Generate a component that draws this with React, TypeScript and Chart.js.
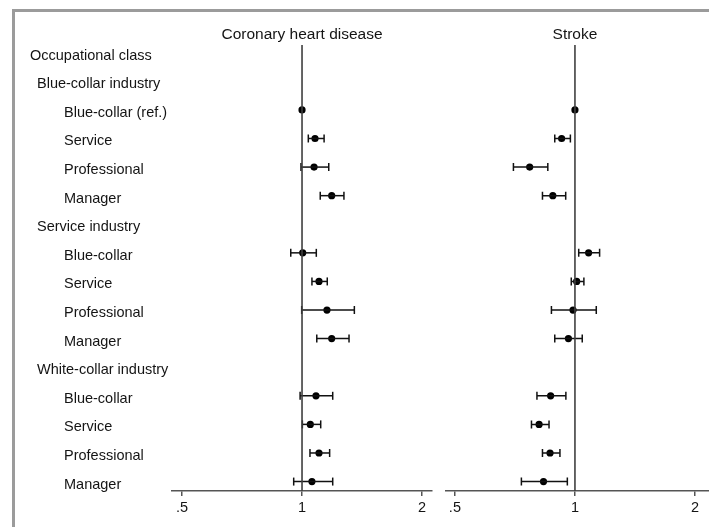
import React, { useEffect, useRef } from 'react';
import { Chart, registerables } from 'chart.js';

Chart.register(...registerables);

// ---- Data ----
const rowLabels = [
  'Occupational class',
  'Blue-collar industry',
  'Blue-collar (ref.)',
  'Service',
  'Professional',
  'Manager',
  'Service industry',
  'Blue-collar',
  'Service',
  'Professional',
  'Manager',
  'White-collar industry',
  'Blue-collar',
  'Service',
  'Professional',
  'Manager',
];
// hierarchy level of each row (0 = heading, 1 = industry, 2 = class)
const rowLevels = [0, 1, 2, 2, 2, 2, 1, 2, 2, 2, 2, 1, 2, 2, 2, 2];

const chdEst = [null, null, 1.0, 1.078, 1.072, 1.187, null, 1.004, 1.103, 1.155, 1.187, null, 1.084, 1.049, 1.103, 1.059];
const chdLo = [null, null, null, 1.037, 0.994, 1.111, null, 0.937, 1.059, 0.998, 1.089, null, 0.989, 1.002, 1.047, 0.953];
const chdHi = [null, null, null, 1.136, 1.167, 1.274, null, 1.086, 1.157, 1.353, 1.312, null, 1.194, 1.114, 1.173, 1.194];

const strokeEst = [null, null, 1.0, 0.926, 0.770, 0.880, null, 1.082, 1.010, 0.989, 0.963, null, 0.869, 0.813, 0.866, 0.834];
const strokeLo = [null, null, null, 0.890, 0.701, 0.829, null, 1.022, 0.979, 0.873, 0.890, null, 0.803, 0.778, 0.829, 0.734];
const strokeHi = [null, null, null, 0.974, 0.855, 0.948, null, 1.153, 1.053, 1.131, 1.043, null, 0.949, 0.861, 0.917, 0.957];

const xTickValues = [0.5, 1, 2];
const xTickLabels = ['.5', '1', '2'];
const panelTitles = ['Coronary heart disease', 'Stroke'];
const referenceValue = 1;

// ---- Styles ----
const FONT_FAMILY = '"Liberation Sans", Arial, Helvetica, sans-serif';
const FONT_SIZE = 14.5;
const TITLE_SIZE = 15.5;
const TEXT_COLOR = '#141414';
const AXIS_COLOR = '#555555';
const Y_MIN = -0.27;
const Y_MAX = 15.33;

type PanelOpts = {
  est: (number | null)[];
  lo: (number | null)[];
  hi: (number | null)[];
  title: string;
  xMin: number;
  xMax: number;
  padLeft: number;
  padRight: number;
  drawRowLabels: boolean;
};

function makePanel(canvas: HTMLCanvasElement, o: PanelOpts): Chart {
  const datasets: any[] = [];
  datasets.push({
    data: [
      { x: referenceValue, y: Y_MIN },
      { x: referenceValue, y: Y_MAX },
    ],
    showLine: true,
    pointRadius: 0,
    borderColor: '#404040',
    borderWidth: 1.6,
  });
  o.est.forEach((_, i) => {
    const l = o.lo[i];
    const h = o.hi[i];
    if (l == null || h == null) return;
    datasets.push({
      data: [
        { x: l, y: i },
        { x: h, y: i },
      ],
      showLine: true,
      borderColor: '#111111',
      borderWidth: 1.5,
      pointStyle: 'line',
      rotation: 90,
      pointRadius: 4,
      pointBorderColor: '#111111',
      pointBorderWidth: 1.5,
      pointBackgroundColor: '#111111',
    });
  });
  datasets.push({
    data: o.est
      .map((v, i) => (v == null ? null : { x: v, y: i }))
      .filter((p) => p != null),
    pointRadius: 3.6,
    pointBackgroundColor: '#000000',
    pointBorderColor: '#000000',
    pointBorderWidth: 0,
    showLine: false,
  });

  const labelPlugin = {
    id: 'panelText',
    afterDraw(chart: any) {
      const ctx = chart.ctx as CanvasRenderingContext2D;
      const xs = chart.scales.x;
      const ys = chart.scales.y;
      ctx.save();
      ctx.fillStyle = TEXT_COLOR;
      ctx.font = `${TITLE_SIZE}px ${FONT_FAMILY}`;
      ctx.textBaseline = 'middle';
      ctx.textAlign = 'center';
      ctx.fillText(o.title, xs.getPixelForValue(referenceValue), 35);
      if (o.drawRowLabels) {
        ctx.font = `${FONT_SIZE}px ${FONT_FAMILY}`;
        ctx.textAlign = 'left';
        const indent = [30, 37, 64];
        rowLabels.forEach((lab, i) => {
          ctx.fillText(lab, indent[rowLevels[i]], ys.getPixelForValue(i) + 3);
        });
      }
      ctx.restore();
    },
  };

  return new Chart(canvas, {
    type: 'scatter',
    data: { datasets },
    options: {
      animation: false,
      responsive: false,
      devicePixelRatio: 1,
      layout: { padding: { left: o.padLeft, right: o.padRight, top: 45, bottom: 0 } },
      plugins: {
        legend: { display: false },
        tooltip: { enabled: false },
        title: { display: false },
      },
      scales: {
        x: {
          type: 'logarithmic',
          min: o.xMin,
          max: o.xMax,
          bounds: 'data',
          afterBuildTicks: (scale: any) => {
            scale.ticks = xTickValues.map((v) => ({ value: v }));
          },
          afterFit: (scale: any) => {
            scale.height = 36;
          },
          ticks: {
            autoSkip: false,
            maxRotation: 0,
            padding: 3,
            color: TEXT_COLOR,
            font: { size: FONT_SIZE, family: FONT_FAMILY },
            callback: (v: any) => {
              const idx = xTickValues.indexOf(Number(v));
              return idx >= 0 ? xTickLabels[idx] : '';
            },
          },
          grid: {
            display: true,
            drawOnChartArea: false,
            drawTicks: true,
            tickLength: 5,
            color: AXIS_COLOR,
            lineWidth: 1.5,
          },
          border: { display: true, color: AXIS_COLOR, width: 1.5 },
        },
        y: {
          type: 'linear',
          display: false,
          min: Y_MIN,
          max: Y_MAX,
          reverse: true,
        },
      },
    } as any,
    plugins: [labelPlugin],
  });
}

export default function App() {
  const leftRef = useRef<HTMLCanvasElement>(null);
  const rightRef = useRef<HTMLCanvasElement>(null);

  useEffect(() => {
    const charts: Chart[] = [];
    if (leftRef.current) {
      charts.push(
        makePanel(leftRef.current, {
          est: chdEst,
          lo: chdLo,
          hi: chdHi,
          title: panelTitles[0],
          xMin: 0.4718,
          xMax: 2.119,
          padLeft: 172,
          padRight: 8,
          drawRowLabels: true,
        })
      );
    }
    if (rightRef.current) {
      // panel is cropped by the window on its right side
      charts.push(
        makePanel(rightRef.current, {
          est: strokeEst,
          lo: strokeLo,
          hi: strokeHi,
          title: panelTitles[1],
          xMin: 0.4736,
          xMax: 2.284,
          padLeft: 5,
          padRight: 12,
          drawRowLabels: false,
        })
      );
    }
    return () => charts.forEach((c) => c.destroy());
  }, []);

  return (
    <div
      style={{
        position: 'fixed',
        left: 0,
        top: 0,
        width: 709,
        height: 527,
        background: '#ffffff',
        overflow: 'hidden',
      }}
    >
      <div
        style={{
          position: 'absolute',
          left: 12,
          top: 9,
          right: 0,
          bottom: 0,
          borderTop: '3px solid #9b9b9b',
          borderLeft: '3px solid #9b9b9b',
        }}
      />
      <canvas
        ref={leftRef}
        width={440}
        height={527}
        style={{ position: 'absolute', left: 0, top: 0, width: 440, height: 527 }}
      />
      <canvas
        ref={rightRef}
        width={290}
        height={527}
        style={{ position: 'absolute', left: 440, top: 0, width: 290, height: 527 }}
      />
    </div>
  );
}
